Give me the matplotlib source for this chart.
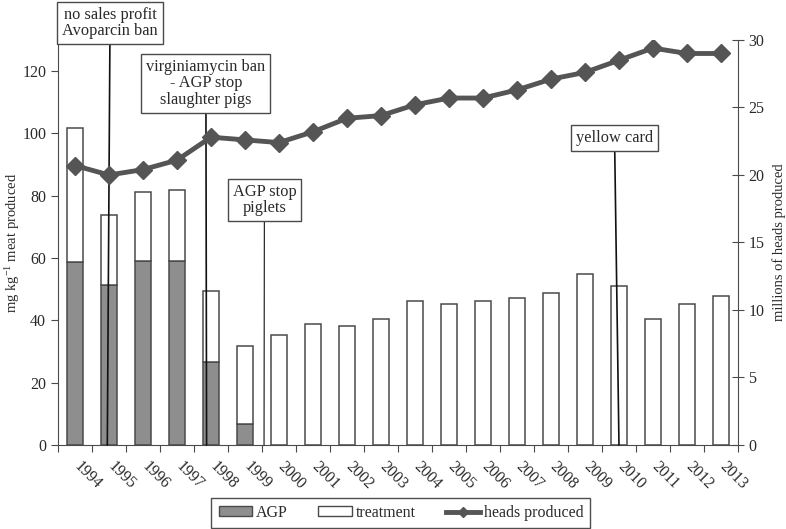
import numpy as np
import matplotlib
matplotlib.use("Agg")
import matplotlib.pyplot as plt
from matplotlib.patches import Patch
from matplotlib.lines import Line2D

plt.rcParams.update({'font.family': 'serif',
                     'font.serif': ['Liberation Serif', 'DejaVu Serif'],
                     'mathtext.fontset': 'custom',
                     'mathtext.rm': 'Liberation Serif',
                     'mathtext.it': 'Liberation Serif:italic',
                     'font.size': 11})

years = [str(y) for y in range(1994, 2014)]
agp = [58.8, 51.3, 59.1, 58.9, 26.7, 6.6, 0, 0, 0, 0,
       0, 0, 0, 0, 0, 0, 0, 0, 0, 0]
treatment = [42.9, 22.6, 22.2, 23.1, 22.8, 25.2, 35.2, 38.7, 38.3, 40.6,
             46.2, 45.3, 46.2, 47.3, 48.9, 54.8, 51.0, 40.6, 45.1, 47.8]
heads = [20.7, 20.0, 20.4, 21.1, 22.8, 22.6, 22.4, 23.2, 24.2, 24.4,
         25.2, 25.7, 25.7, 26.3, 27.1, 27.6, 28.5, 29.4, 29.0, 29.0]

# policy events: label text, where the line hits the axis, box centre
events = ["no sales profit\nAvoparcin ban",
          "virginiamycin ban\n- AGP stop\nslaughter pigs",
          "AGP stop\npiglets",
          "yellow card"]
event_x = [0.95, 3.87, 5.56, 16.0]
box_xy = [(1.03, 135.5), (3.85, 116.1), (5.57, 78.6), (15.87, 98.6)]
line_w = [1.2, 1.2, 0.8, 1.2]

dark = '#4a4a4a'
txtc = '#2a2a2a'
fig = plt.figure(figsize=(7.86, 5.29), dpi=100)
ax = fig.add_axes([0.0738, 0.1588, 0.8651, 0.7656])
x = np.arange(len(years))

ax.bar(x, agp, width=0.46, color='#8e8e8e', edgecolor=dark, linewidth=1.1, zorder=2)
ax.bar(x, treatment, width=0.46, bottom=agp, color='white', edgecolor=dark,
       linewidth=1.1, zorder=2)

for txt, ex, (bx, by), lw in zip(events, event_x, box_xy, line_w):
    ax.annotate(txt, xy=(ex, 0), xytext=(bx, by), ha='center', va='center',
                fontsize=11.8, color=txtc, linespacing=1.05, zorder=5,
                bbox=dict(boxstyle='square,pad=0.3', fc='white', ec=dark, lw=1.0),
                arrowprops=dict(arrowstyle='-', color='#111111', lw=lw,
                                shrinkA=0, shrinkB=0))

ax.set_xlim(-0.5, len(years) - 0.5)
ax.set_ylim(0, 130)
ax.set_yticks(range(0, 121, 20))
# tick marks sit between the bars, year labels hang just right of each bar centre
ax.set_xticks(np.arange(-0.5, len(years), 1.0))
ax.set_xticklabels([])
ax.set_xticks(x + 0.2, minor=True)
ax.set_xticklabels(years, minor=True, rotation=-45, ha='left', va='top',
                   rotation_mode='anchor')
ax.tick_params(axis='x', which='minor', length=0, pad=10, labelsize=11.5, colors=txtc)
ax.tick_params(axis='x', which='major', length=5, color=dark)
ax.tick_params(axis='y', length=5, color=dark, labelsize=11.5, labelcolor=txtc)
ax.set_ylabel('mg kg$^{-1}$ meat produced', fontsize=10.5, color=txtc)
ax.yaxis.set_label_coords(-0.053, 0.5)
for s in ['top', 'right']:
    ax.spines[s].set_visible(False)
for s in ['left', 'bottom']:
    ax.spines[s].set_color(dark)

ax2 = ax.twinx()
ax2.plot(x, heads, color='#555555', lw=3.5, marker='D', markersize=9.5, zorder=3)
ax2.set_ylim(0, 30)
ax2.set_yticks(range(0, 31, 5))
ax2.tick_params(axis='y', direction='inout', length=8, color=dark, labelsize=11.5,
                labelcolor=txtc)
ax2.set_ylabel('millions of heads produced', fontsize=10.5, color=txtc)
ax2.yaxis.set_label_coords(1.05, 0.5)
for s in ['top', 'left', 'bottom']:
    ax2.spines[s].set_visible(False)
ax2.spines['right'].set_color(dark)

handles = [Patch(fc='#8e8e8e', ec=dark, lw=1.0),
           Patch(fc='white', ec=dark, lw=1.0),
           Line2D([], [], color='#555555', lw=3.5, marker='D', markersize=5)]
leg = fig.legend(handles, ['AGP', 'treatment', 'heads produced'], ncol=3,
                 loc='lower center', bbox_to_anchor=(0.51, 0.002), frameon=True,
                 fancybox=False, edgecolor='#222222', fontsize=11.5,
                 handlelength=2.1, handleheight=0.55, handletextpad=0.25,
                 columnspacing=1.9, borderpad=0.45, borderaxespad=0)
leg.get_frame().set_linewidth(1.0)
for t in leg.get_texts():
    t.set_color(txtc)

plt.savefig('out.png', dpi=100)
plt.close()
